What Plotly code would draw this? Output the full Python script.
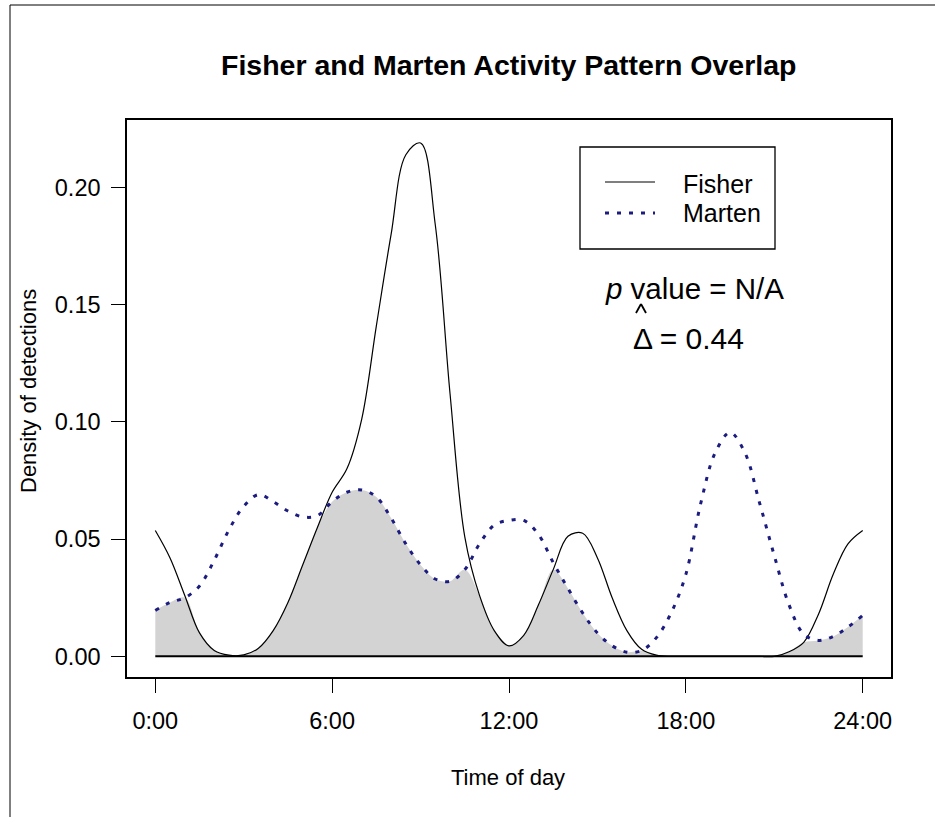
import plotly.graph_objects as go

# Kernel density estimates of detection times (hours since midnight)
hours = [i * 0.5 for i in range(49)]

fisher = [
    0.0537, 0.042, 0.026, 0.010, 0.0025, 0.0005, 0.0006, 0.0035, 0.011, 0.023,
    0.039, 0.055, 0.070, 0.080, 0.101, 0.141, 0.180, 0.214, 0.219, 0.184,
    0.112, 0.051, 0.026, 0.011, 0.0045, 0.009, 0.022, 0.037, 0.0512, 0.0525,
    0.042, 0.025, 0.011, 0.003, 0.0005, 0.0, 0.0, 0.0, 0.0, 0.0,
    0.0, 0.0, 0.0, 0.002, 0.006, 0.018, 0.035, 0.048, 0.0537,
]

marten = [
    0.0196, 0.023, 0.025, 0.030, 0.041, 0.054, 0.064, 0.069, 0.066, 0.062,
    0.0595, 0.060, 0.066, 0.070, 0.071, 0.068, 0.059, 0.048, 0.039, 0.033,
    0.032, 0.037, 0.048, 0.056, 0.058, 0.058, 0.052, 0.040, 0.029, 0.0185,
    0.010, 0.0045, 0.0018, 0.0025, 0.008, 0.0185, 0.035, 0.065, 0.087, 0.0955,
    0.087, 0.0655, 0.043, 0.022, 0.0095, 0.0068, 0.0085, 0.0125, 0.0175,
]

overlap = [min(f, m) for f, m in zip(fisher, marten)]

x_ticks = [0, 6, 12, 18, 24]
x_tick_labels = ["0:00", "6:00", "12:00", "18:00", "24:00"]
y_ticks = [0.0, 0.05, 0.10, 0.15, 0.20]
y_tick_labels = ["0.00", "0.05", "0.10", "0.15", "0.20"]

FONT = "Arial, Liberation Sans, sans-serif"
MARTEN_COLOR = "#1c1c80"
W, H = 935, 817
L, R, T, B = 127, 44, 120, 140
PW, PH = W - L - R, H - T - B


def px(x):
    return (x - L) / PW


def py(y):
    return (H - B - y) / PH


fig = go.Figure()

# shared area under both densities
fig.add_trace(go.Scatter(
    x=hours, y=overlap, mode="lines", fill="tozeroy",
    fillcolor="#d3d3d3", line=dict(width=0, shape="spline"),
    hoverinfo="skip", showlegend=False,
))
# baseline
fig.add_trace(go.Scatter(
    x=[hours[0], hours[-1]], y=[0, 0], mode="lines",
    line=dict(color="black", width=2), hoverinfo="skip", showlegend=False,
))
fig.add_trace(go.Scatter(
    x=hours, y=fisher, mode="lines", name="Fisher",
    line=dict(color="black", width=1.2, shape="spline"), showlegend=False,
))
fig.add_trace(go.Scatter(
    x=hours, y=marten, mode="lines", name="Marten",
    line=dict(color=MARTEN_COLOR, width=3, dash="4px,8px", shape="spline"),
    showlegend=False,
))


def seg(x0, y0, x1, y1, color="black", width=1.0, dash="solid"):
    return dict(type="line", xref="paper", yref="paper",
                x0=px(x0), x1=px(x1), y0=py(y0), y1=py(y1),
                line=dict(color=color, width=width, dash=dash))


shapes = [
    # page frame
    seg(10, 5, 10, H),
    seg(10, 5, W, 5),
    # legend box and keys
    dict(type="rect", xref="paper", yref="paper",
         x0=px(580), x1=px(775), y0=py(147), y1=py(249),
         line=dict(color="black", width=1.3), fillcolor="white"),
    seg(605, 182, 655, 182, width=1.2),
    seg(605, 213, 655, 213, color=MARTEN_COLOR, width=3, dash="4px,8px"),
    # hat over the Delta estimator
    seg(636, 313, 641, 304, width=1.8),
    seg(641, 304, 646, 313, width=1.8),
]


def label(text, x, y, size, anchor="center", angle=0):
    return dict(text=text, x=px(x), y=py(y), xref="paper", yref="paper",
                xanchor=anchor, yanchor="middle", textangle=angle,
                showarrow=False, font=dict(family=FONT, size=size, color="black"))


annotations = [
    label("<b>Fisher and Marten Activity Pattern Overlap</b>", 508, 65, 28.5),
    label("Time of day", 508, 777, 22),
    label("Density of detections", 28, 391, 22, angle=-90),
    label("Fisher", 681, 184, 25, anchor="left"),
    label("Marten", 681, 213, 25, anchor="left"),
    label("<i>p</i> value = N/A", 694, 288, 29.5),
    label("\u0394 = 0.44", 688, 338, 30),
]

fig.update_layout(
    width=W, height=H,
    margin=dict(l=L, r=R, t=T, b=B),
    paper_bgcolor="white", plot_bgcolor="white",
    shapes=shapes, annotations=annotations,
    showlegend=False,
    xaxis=dict(
        range=[-0.96, 24.96], tickvals=x_ticks, ticktext=x_tick_labels,
        showgrid=False, zeroline=False, showline=True, mirror=True,
        linecolor="black", linewidth=1.5, ticks="outside", ticklen=14,
        tickwidth=1.2, tickcolor="black", ticklabelstandoff=8,
        tickfont=dict(family=FONT, size=23.5, color="black"),
    ),
    yaxis=dict(
        range=[-0.0088, 0.2288], tickvals=y_ticks, ticktext=y_tick_labels,
        showgrid=False, zeroline=False, showline=True, mirror=True,
        linecolor="black", linewidth=1.5, ticks="outside", ticklen=14,
        tickwidth=1.2, tickcolor="black", ticklabelstandoff=6,
        tickfont=dict(family=FONT, size=23.5, color="black"),
    ),
)

fig.write_html("out.html")
